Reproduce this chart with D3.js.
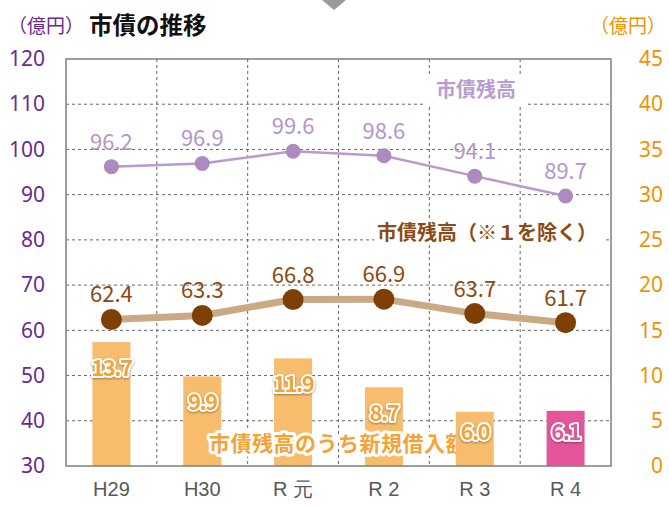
<!DOCTYPE html>
<html><head><meta charset="utf-8">
<script src="https://cdn.jsdelivr.net/npm/d3@7"></script>
<style>
body{margin:0;background:#fff;}
svg{display:block;font-family:"Noto Sans CJK JP","Noto Sans",sans-serif;}
</style></head>
<body><svg id="c" width="669" height="506"></svg>
<script>
const categories = ["H29","H30","R 元","R 2","R 3","R 4"];
const totalDebt = [96.2, 96.9, 99.6, 98.6, 94.1, 89.7];
const debtExcl = [62.4, 63.3, 66.8, 66.9, 63.7, 61.7];
const newBorrow = [13.7, 9.9, 11.9, 8.7, 6.0, 6.1];
const leftTicks = [30,40,50,60,70,80,90,100,110,120];
const rightTicks = [0,5,10,15,20,25,30,35,40,45];

const svg = d3.select("#c");
const L=66,R=611,T=59,B=466;
const x = d3.scaleBand().domain(categories).range([L,R]).paddingInner(0).paddingOuter(0);
const yL = d3.scaleLinear().domain([30,120]).range([B,T]);
const yR = d3.scaleLinear().domain([0,45]).range([B,T]);
const cx = d => x(d)+x.bandwidth()/2;

// decoration triangle at top
svg.append("path").attr("d","M322,0 L346,0 L334,10 Z").attr("fill","#9a9a9a");

// grid
const g = svg.append("g");
g.selectAll(".hg").data(leftTicks.slice(1,-1)).join("line")
 .attr("x1",L).attr("x2",R).attr("y1",d=>yL(d)).attr("y2",d=>yL(d))
 .attr("stroke","#666").attr("stroke-width",1).attr("stroke-dasharray","3,3");
g.selectAll(".vg").data(categories.slice(1)).join("line")
 .attr("x1",d=>x(d)).attr("x2",d=>x(d)).attr("y1",T).attr("y2",B)
 .attr("stroke","#666").attr("stroke-width",1).attr("stroke-dasharray","3,3");

// bars
const barW = 38;
const colorBar = i=> i===categories.length-1 ? "#E5559A" : "#F7BD6C";
function drawBars(sel, idx){
  sel.selectAll("rect").data(idx).join("rect")
   .attr("x",i=>cx(categories[i])-barW/2).attr("width",barW)
   .attr("y",i=>yR(newBorrow[i])).attr("height",i=>B-yR(newBorrow[i]))
   .attr("fill",i=>colorBar(i));
}
drawBars(svg.append("g"), [0,1,2,3]);

// series label for bars (partly under later bars)
svg.append("text").attr("x",209).attr("y",451)
 .attr("font-size",21).attr("font-weight","bold").attr("fill","#F5A236")
 .attr("letter-spacing","0.5")
 .attr("stroke","#fff").attr("stroke-width",6).attr("stroke-linejoin","round")
 .attr("paint-order","stroke").text("市債残高のうち新規借入額");

drawBars(svg.append("g"), [4,5]);

// bar value labels
svg.append("g").selectAll("text").data(newBorrow).join("text")
 .attr("x",(d,i)=>cx(categories[i]))
 .attr("y",d=>Math.min(yR(d)+34, 440))
 .attr("text-anchor","middle").attr("font-size",22).attr("font-weight","bold")
 .attr("letter-spacing","-1.5")
 .attr("fill",(d,i)=> i===categories.length-1 ? "#E5559A" : "#F5A236")
 .attr("stroke","#fff").attr("stroke-width",4).attr("stroke-linejoin","round")
 .attr("paint-order","stroke")
 .style("filter","drop-shadow(0px 1px 1px rgba(0,0,0,0.35))")
 .text(d=>d.toFixed(1));

// frame
svg.append("rect").attr("x",L).attr("y",T).attr("width",R-L).attr("height",B-T)
 .attr("fill","none").attr("stroke","#7f7f7f").attr("stroke-width",1.5);

// purple line
const lineGen = d3.line().x((d,i)=>cx(categories[i])).y(d=>yL(d));
svg.append("path").datum(totalDebt).attr("d",lineGen)
 .attr("fill","none").attr("stroke","#B89ACB").attr("stroke-width",2.5);
svg.append("g").selectAll("circle").data(totalDebt).join("circle")
 .attr("cx",(d,i)=>cx(categories[i])).attr("cy",d=>yL(d)).attr("r",7.5).attr("fill","#AD8AC0");
svg.append("g").selectAll("text").data(totalDebt).join("text")
 .attr("x",(d,i)=>cx(categories[i])).attr("y",d=>yL(d)-17)
 .attr("text-anchor","middle").attr("font-size",22).attr("fill","#B496C8")
 .text(d=>d.toFixed(1));

// brown line
svg.append("path").datum(debtExcl).attr("d",lineGen)
 .attr("fill","none").attr("stroke","#CBA985").attr("stroke-width",7);
svg.append("g").selectAll("circle").data(debtExcl).join("circle")
 .attr("cx",(d,i)=>cx(categories[i])).attr("cy",d=>yL(d)).attr("r",10.5).attr("fill","#7D3F04");
svg.append("g").selectAll("text").data(debtExcl).join("text")
 .attr("x",(d,i)=>cx(categories[i])).attr("y",d=>yL(d)-17)
 .attr("text-anchor","middle").attr("font-size",22).attr("fill","#8A4A12")
 .text(d=>d.toFixed(1));

// legend labels with white background
svg.append("rect").attr("x",425).attr("y",74).attr("width",100).attr("height",32).attr("fill","#fff");
svg.append("text").attr("x",476).attr("y",97).attr("text-anchor","middle")
 .attr("font-size",20).attr("font-weight","bold").attr("fill","#B99DD0").text("市債残高");
svg.append("rect").attr("x",374).attr("y",221).attr("width",230).attr("height",24).attr("fill","#fff");
svg.append("text").attr("x",377).attr("y",240)
 .attr("font-size",20).attr("font-weight","bold").attr("fill","#8C4A14").text("市債残高（※１を除く）");

// axes
const axL = svg.append("g").attr("transform",`translate(${L},0)`)
 .call(d3.axisLeft(yL).tickValues(leftTicks).tickSize(0).tickPadding(21));
axL.select(".domain").remove();
axL.selectAll("text").attr("font-size",21).attr("fill","#6A2A8E").attr("font-family","'Noto Sans','Noto Sans CJK JP',sans-serif");

const axR = svg.append("g").attr("transform",`translate(${R},0)`)
 .call(d3.axisRight(yR).tickValues(rightTicks).tickSize(0).tickPadding(0));
axR.select(".domain").remove();
axR.selectAll("text").attr("text-anchor","end").attr("x",52).attr("font-size",21).attr("fill","#F29200").attr("font-family","'Noto Sans','Noto Sans CJK JP',sans-serif");

const axB = svg.append("g").attr("transform",`translate(0,${B})`)
 .call(d3.axisBottom(x).tickSize(0).tickPadding(16));
axB.select(".domain").remove();
axB.selectAll("text").attr("font-size",20).attr("fill","#595959");

// titles
svg.append("text").attr("x",8).attr("y",33).attr("font-size",19).attr("fill","#6A2A8E").text("（億円）");
svg.append("text").attr("x",89).attr("y",34).attr("font-size",23.5).attr("font-weight","bold").attr("fill","#111").text("市債の推移");
svg.append("text").attr("x",666).attr("y",33).attr("text-anchor","end").attr("font-size",19).attr("fill","#F29200").text("（億円）");
</script></body></html>
